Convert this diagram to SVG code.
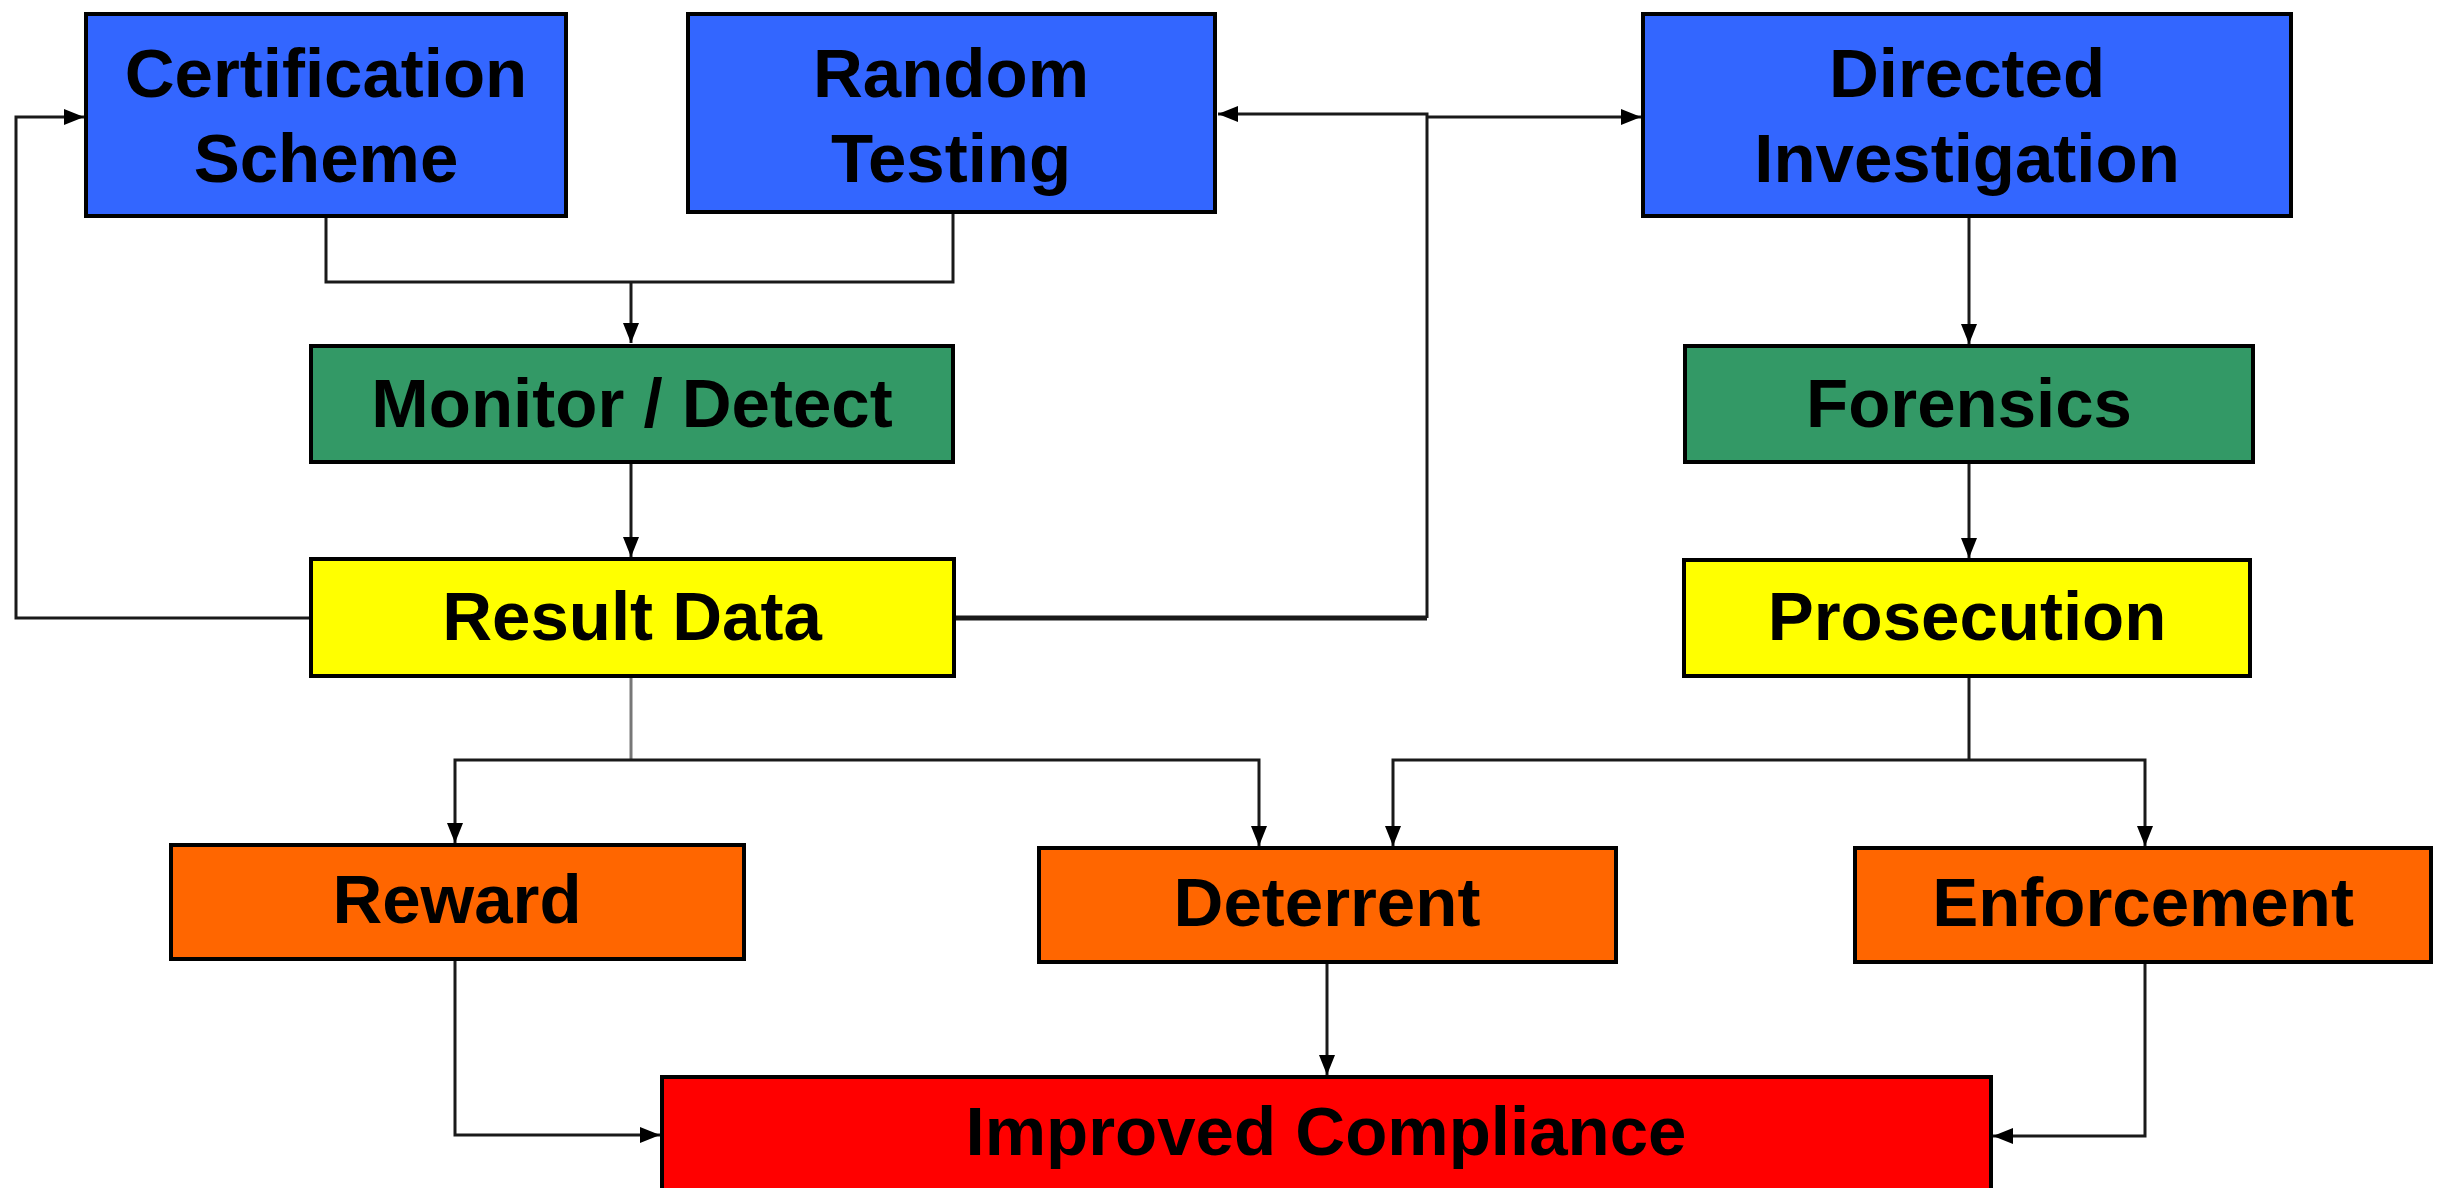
<svg xmlns="http://www.w3.org/2000/svg" width="2441" height="1188" viewBox="0 0 2441 1188">
<style>
.box{stroke:#000;stroke-width:4}
.blue{fill:#3366FF}.green{fill:#339966}.yellow{fill:#FFFF00}.orange{fill:#FF6600}.red{fill:#FF0000}
.t{font-family:"Liberation Sans",Arial,sans-serif;font-weight:bold;font-size:69px;fill:#000;text-anchor:middle}
.c{fill:none;stroke:#1a1a1a;stroke-width:3}
.a{marker-end:url(#arr)}
</style>
<defs>
<marker id="arr" markerUnits="userSpaceOnUse" markerWidth="22" markerHeight="18" refX="20" refY="8" orient="auto">
<path d="M0,0 L20,8 L0,16 Z" fill="#000"/>
</marker>
</defs>
<rect width="2441" height="1188" fill="#fff"/>
<g id="connectors">
<path class="c" d="M326,217 V282 H631"/>
<path class="c" d="M953,212 V282 H631"/>
<path class="c a" d="M631,282 V343"/>
<path class="c a" d="M631,462 V557"/>
<path class="c a" d="M311,618 H16 V117 H84"/>
<path class="c" style="stroke-width:5" d="M954,618 H1427"/>
<path class="c a" d="M1427,618 V114 H1218"/>
<path class="c a" d="M1427,117 H1641"/>
<path class="c a" d="M1969,217 V344"/>
<path class="c a" d="M1969,462 V558"/>
<path class="c" style="stroke:#777" d="M631,676 V760"/>
<path class="c a" d="M631,760 H455 V843"/>
<path class="c a" d="M631,760 H1259 V846"/>
<path class="c" d="M1969,676 V760"/>
<path class="c a" d="M1969,760 H1393 V846"/>
<path class="c a" d="M1969,760 H2145 V846"/>
<path class="c a" d="M455,959 V1135 H660"/>
<path class="c a" d="M1327,962 V1075"/>
<path class="c a" d="M2145,962 V1136 H1993"/>
</g>
<g id="cert"><rect class="box blue" x="86" y="14" width="480" height="202"/><text class="t" x="326" y="97">Certification</text><text class="t" x="326" y="182">Scheme</text></g>
<g id="random"><rect class="box blue" x="688" y="14" width="527" height="198"/><text class="t" x="951" y="97">Random</text><text class="t" x="951" y="182">Testing</text></g>
<g id="directed"><rect class="box blue" x="1643" y="14" width="648" height="202"/><text class="t" x="1967" y="97">Directed</text><text class="t" x="1967" y="182">Investigation</text></g>
<g id="monitor"><rect class="box green" x="311" y="346" width="642" height="116"/><text class="t" x="632" y="427">Monitor / Detect</text></g>
<g id="forensics"><rect class="box green" x="1685" y="346" width="568" height="116"/><text class="t" x="1969" y="427">Forensics</text></g>
<g id="result"><rect class="box yellow" x="311" y="559" width="643" height="117"/><text class="t" x="632" y="640">Result Data</text></g>
<g id="prosecution"><rect class="box yellow" x="1684" y="560" width="566" height="116"/><text class="t" x="1967" y="640">Prosecution</text></g>
<g id="reward"><rect class="box orange" x="171" y="845" width="573" height="114"/><text class="t" x="457" y="923">Reward</text></g>
<g id="deterrent"><rect class="box orange" x="1039" y="848" width="577" height="114"/><text class="t" x="1327" y="926">Deterrent</text></g>
<g id="enforcement"><rect class="box orange" x="1855" y="848" width="576" height="114"/><text class="t" x="2143" y="926">Enforcement</text></g>
<g id="improved"><rect class="box red" x="662" y="1077" width="1329" height="130"/><text class="t" x="1326" y="1155">Improved Compliance</text></g>
</svg>
